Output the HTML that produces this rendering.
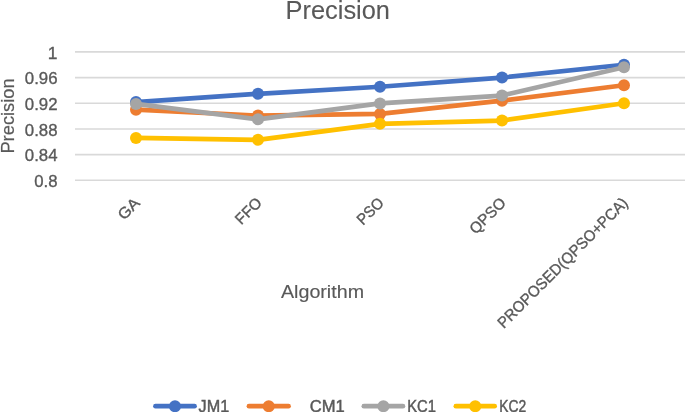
<!DOCTYPE html>
<html><head><meta charset="utf-8"><style>
html,body{margin:0;padding:0;background:#fff;}
body{width:685px;height:412px;overflow:hidden;font-family:"Liberation Sans",sans-serif;}
svg{display:block;will-change:transform}
text{font-family:"Liberation Sans",sans-serif;fill:#595959;stroke:#595959;stroke-width:0.35px}
</style></head><body>
<svg width="685" height="412" viewBox="0 0 685 412">
<rect width="685" height="412" fill="#fff"/>
<line x1="75" x2="685" y1="51.90" y2="51.90" stroke="#d9d9d9" stroke-width="1.6"/>
<line x1="75" x2="685" y1="77.58" y2="77.58" stroke="#d9d9d9" stroke-width="1.6"/>
<line x1="75" x2="685" y1="103.26" y2="103.26" stroke="#d9d9d9" stroke-width="1.6"/>
<line x1="75" x2="685" y1="128.94" y2="128.94" stroke="#d9d9d9" stroke-width="1.6"/>
<line x1="75" x2="685" y1="154.62" y2="154.62" stroke="#d9d9d9" stroke-width="1.6"/>
<line x1="75" x2="685" y1="180.30" y2="180.30" stroke="#d9d9d9" stroke-width="1.6"/>
<text x="57.5" y="58.50" font-size="17.4" text-anchor="end">1</text>
<text x="57.5" y="84.18" font-size="17.4" text-anchor="end" textLength="32.7" lengthAdjust="spacingAndGlyphs">0.96</text>
<text x="57.5" y="109.86" font-size="17.4" text-anchor="end" textLength="32.7" lengthAdjust="spacingAndGlyphs">0.92</text>
<text x="57.5" y="135.54" font-size="17.4" text-anchor="end" textLength="32.7" lengthAdjust="spacingAndGlyphs">0.88</text>
<text x="57.5" y="161.22" font-size="17.4" text-anchor="end" textLength="32.7" lengthAdjust="spacingAndGlyphs">0.84</text>
<text x="57.5" y="186.90" font-size="17.4" text-anchor="end" textLength="23.3" lengthAdjust="spacingAndGlyphs">0.8</text>
<text style="stroke-width:0.1px" x="285.6" y="18.7" font-size="25.8" textLength="104.4" lengthAdjust="spacingAndGlyphs">Precision</text>
<text style="stroke-width:0.2px" transform="translate(14.2,153.6) rotate(-90)" font-size="17.8" textLength="75.3" lengthAdjust="spacingAndGlyphs">Precision</text>
<text style="stroke-width:0.15px" x="281" y="298.2" font-size="18.3" textLength="83" lengthAdjust="spacingAndGlyphs">Algorithm</text>
<text transform="translate(140.80,203.90) rotate(-45)" font-size="15.5" text-anchor="end" textLength="23.75" lengthAdjust="spacingAndGlyphs">GA</text>
<text transform="translate(262.80,203.90) rotate(-45)" font-size="15.5" text-anchor="end" textLength="30.38" lengthAdjust="spacingAndGlyphs">FFO</text>
<text transform="translate(384.80,203.90) rotate(-45)" font-size="15.5" text-anchor="end" textLength="30.93" lengthAdjust="spacingAndGlyphs">PSO</text>
<text transform="translate(506.80,203.90) rotate(-45)" font-size="15.5" text-anchor="end" textLength="43.90" lengthAdjust="spacingAndGlyphs">QPSO</text>
<text transform="translate(628.80,203.90) rotate(-45)" font-size="15.5" text-anchor="end" textLength="176.90" lengthAdjust="spacingAndGlyphs">PROPOSED(QPSO+PCA)</text>
<polyline points="136,102.10 258,93.82 380,86.76 502,77.58 624,64.74" fill="none" stroke="#4472c4" stroke-width="4.7" stroke-linecap="round" stroke-linejoin="round"/>
<circle cx="136" cy="102.10" r="6.0" fill="#4472c4"/>
<circle cx="258" cy="93.82" r="6.0" fill="#4472c4"/>
<circle cx="380" cy="86.76" r="6.0" fill="#4472c4"/>
<circle cx="502" cy="77.58" r="6.0" fill="#4472c4"/>
<circle cx="624" cy="64.74" r="6.0" fill="#4472c4"/>
<polyline points="136,109.68 258,115.59 380,113.92 502,100.69 624,85.28" fill="none" stroke="#ed7d31" stroke-width="4.7" stroke-linecap="round" stroke-linejoin="round"/>
<circle cx="136" cy="109.68" r="6.0" fill="#ed7d31"/>
<circle cx="258" cy="115.59" r="6.0" fill="#ed7d31"/>
<circle cx="380" cy="113.92" r="6.0" fill="#ed7d31"/>
<circle cx="502" cy="100.69" r="6.0" fill="#ed7d31"/>
<circle cx="624" cy="85.28" r="6.0" fill="#ed7d31"/>
<polyline points="136,103.90 258,119.31 380,103.45 502,95.56 624,67.31" fill="none" stroke="#a5a5a5" stroke-width="4.7" stroke-linecap="round" stroke-linejoin="round"/>
<circle cx="136" cy="103.90" r="6.0" fill="#a5a5a5"/>
<circle cx="258" cy="119.31" r="6.0" fill="#a5a5a5"/>
<circle cx="380" cy="103.45" r="6.0" fill="#a5a5a5"/>
<circle cx="502" cy="95.56" r="6.0" fill="#a5a5a5"/>
<circle cx="624" cy="67.31" r="6.0" fill="#a5a5a5"/>
<polyline points="136,137.93 258,139.85 380,123.80 502,120.59 624,103.26" fill="none" stroke="#ffc000" stroke-width="4.7" stroke-linecap="round" stroke-linejoin="round"/>
<circle cx="136" cy="137.93" r="6.0" fill="#ffc000"/>
<circle cx="258" cy="139.85" r="6.0" fill="#ffc000"/>
<circle cx="380" cy="123.80" r="6.0" fill="#ffc000"/>
<circle cx="502" cy="120.59" r="6.0" fill="#ffc000"/>
<circle cx="624" cy="103.26" r="6.0" fill="#ffc000"/>
<line x1="155.45" x2="194.54999999999998" y1="406.2" y2="406.2" stroke="#4472c4" stroke-width="4.7" stroke-linecap="round"/>
<circle cx="175.00" cy="406.2" r="6.0" fill="#4472c4"/>
<text style="stroke-width:0.45px" x="198.6" y="411.9" font-size="17.1" textLength="30.6" lengthAdjust="spacingAndGlyphs">JM1</text>
<line x1="248.95" x2="288.55" y1="406.2" y2="406.2" stroke="#ed7d31" stroke-width="4.7" stroke-linecap="round"/>
<circle cx="268.75" cy="406.2" r="6.0" fill="#ed7d31"/>
<text style="stroke-width:0.45px" x="309.8" y="411.9" font-size="17.1" textLength="35.0" lengthAdjust="spacingAndGlyphs">CM1</text>
<line x1="363.85" x2="402.95000000000005" y1="406.2" y2="406.2" stroke="#a5a5a5" stroke-width="4.7" stroke-linecap="round"/>
<circle cx="383.40" cy="406.2" r="6.0" fill="#a5a5a5"/>
<text style="stroke-width:0.45px" x="407.2" y="411.9" font-size="17.1" textLength="28.8" lengthAdjust="spacingAndGlyphs">KC1</text>
<line x1="455.85" x2="494.65000000000003" y1="406.2" y2="406.2" stroke="#ffc000" stroke-width="4.7" stroke-linecap="round"/>
<circle cx="475.25" cy="406.2" r="6.0" fill="#ffc000"/>
<text style="stroke-width:0.45px" x="499.3" y="411.9" font-size="17.1" textLength="27.0" lengthAdjust="spacingAndGlyphs">KC2</text>
</svg></body></html>
